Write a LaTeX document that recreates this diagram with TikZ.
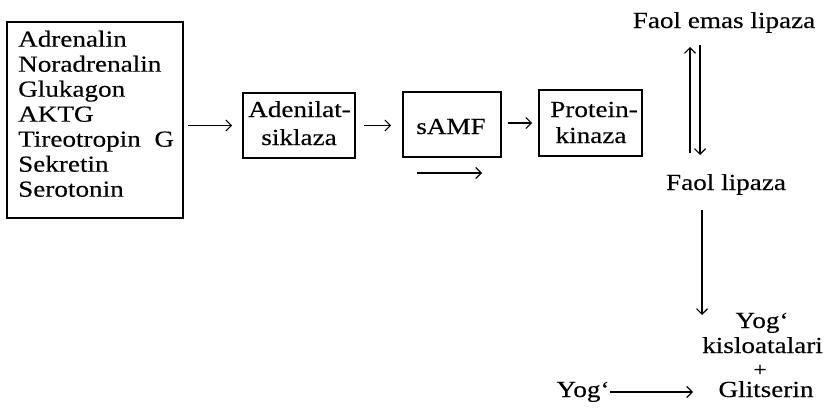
\documentclass[tikz,border=0pt]{standalone}
\usepackage{fontspec}
\setmainfont{Liberation Serif}[FakeStretch=1.18,FakeBold=0.3]
\usetikzlibrary{arrows.meta,calc}
\begin{document}
\begin{tikzpicture}[x=1pt,y=-1pt,
  box/.style={draw, line width=1.8pt, inner sep=0pt},
  txt/.style={inner sep=0pt, font=\fontsize{23}{25}\selectfont, anchor=base},
  ltxt/.style={txt, anchor=base west},
  arr/.style={-{Straight Barb[length=5.5pt,width=11pt,line width=1.1pt]}, line width=1.1pt}]
\useasboundingbox (0,0) rectangle (824,407);
% boxes
\node[box, minimum width=176pt, minimum height=196pt] (b1) at (95,120) {};
\node[box, minimum width=112pt, minimum height=65pt] (b2) at (299,125.5) {};
\node[box, minimum width=98pt, minimum height=65pt] (b3) at (452,124.5) {};
\node[box, minimum width=103pt, minimum height=66pt] (b4) at (590.5,123) {};
% box texts
\node[ltxt] (h1) at (18,46.7) {Adrenalin};
\node[ltxt] (h2) at (18,71.7) {Noradrenalin};
\node[ltxt] (h3) at (18,96.7) {Glukagon};
\node[ltxt] (h4) at (18,121.7) {AKTG};
\node[ltxt] (h5) at (18,146.7) {Tireotropin\ \ G};
\node[ltxt] (h6) at (18,171.7) {Sekretin};
\node[ltxt] (h7) at (18,196.7) {Serotonin};
\node[txt] (t2a) at (299.5,117) {Adenilat-};
\node[txt] (t2b) at (299,145) {siklaza};
\node[txt] (t3) at (451,134) {sAMF};
\node[txt] (t4a) at (594,117) {Protein-};
\node[txt] (t4b) at (591,143) {kinaza};
% right side texts
\node[txt] (fe) at (724,28) {Faol emas lipaza};
\node[txt] (fl) at (726,190) {Faol lipaza};
\node[txt] (yk) at (762,328) {Yog‘};
\node[txt] (ks) at (762.5,353) {kisloatalari};
\node[inner sep=0pt, font=\fontsize{20}{20}\selectfont] (pl) at (760,370.5) {+};
\node[txt] (gl) at (766,397) {Glitserin};
\node[txt] (yb) at (583,397) {Yog‘};
% coordinates
\coordinate (s1) at (417,173);
\coordinate (s2) at (482,173);
\coordinate (u1) at (690,153);
\coordinate (u2) at (690,47);
\coordinate (d1) at (700,45);
\coordinate (d2) at (700,155);
\coordinate (f1) at (702,210);
\coordinate (f2) at (702,315);
\coordinate (g1) at (610,392);
\coordinate (g2) at (693,392);
% arrows
\draw[arr] ([xshift=4pt]b1.east |- b2.west) -- ([xshift=-10pt]b2.west);
\draw[arr] ([xshift=8pt]b2.east) -- ([xshift=-11pt]b3.west |- b2.east);
\draw[arr] ([xshift=6pt]b3.east |- b4.west) -- ([xshift=-6pt]b4.west);
\draw[arr] (s1) -- (s2);
\draw[arr] (u1) -- (u2);
\draw[arr] (d1) -- (d2);
\draw[arr] (f1) -- (f2);
\draw[arr] (g1) -- (g2);
\end{tikzpicture}
\end{document}
